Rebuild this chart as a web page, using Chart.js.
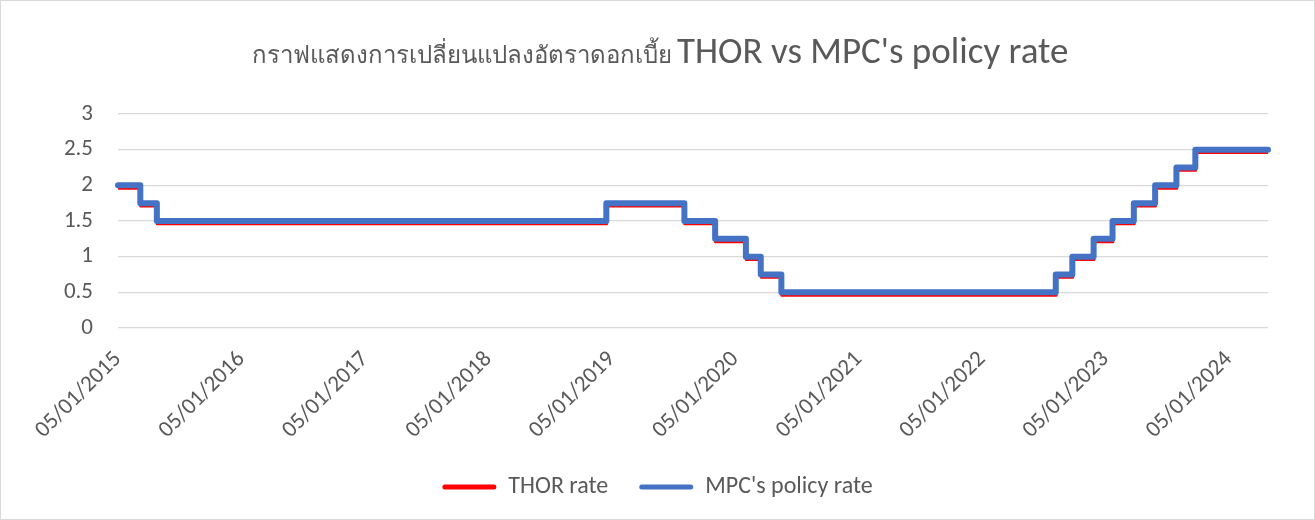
<!DOCTYPE html>
<html>
<head>
<meta charset="utf-8">
<script src="https://cdn.jsdelivr.net/npm/chart.js@4.4.1/dist/chart.umd.min.js"></script>
<style>
  html, body { margin: 0; padding: 0; background: #ffffff; }
  #wrap { width: 1315px; height: 520px; box-sizing: border-box; border: 1px solid #d9d9d9; background: #fff; }
  canvas { display: block; }
</style>
</head>
<body>
<div id="wrap"><canvas id="c" width="1313" height="518"></canvas></div>
<script>
// ---- Data ----
const titleThai = "กราฟแสดงการเปลี่ยนแปลงอัตราดอกเบี้ย";
const titleEn = "THOR vs MPC's policy rate";
const seriesNames = ["THOR rate", "MPC's policy rate"];

// MPC policy rate: date from which each rate applies
const policyDates = ["2015-01-05","2015-03-12","2015-04-30","2018-12-20","2019-08-08","2019-11-07","2020-02-06","2020-03-21","2020-05-21","2022-08-11","2022-09-29","2022-12-01","2023-01-26","2023-03-30","2023-06-01","2023-08-03","2023-09-28","2024-04-30"];
const policyRates = [2.00, 1.75, 1.50, 1.75, 1.50, 1.25, 1.00, 0.75, 0.50, 0.75, 1.00, 1.25, 1.50, 1.75, 2.00, 2.25, 2.50, 2.50];

// THOR rate: sits just under the policy rate
const thorDates = ["2015-01-05","2015-03-13","2015-05-01","2018-12-21","2019-08-09","2019-11-08","2020-02-07","2020-03-23","2020-05-22","2022-08-12","2022-09-30","2022-12-02","2023-01-27","2023-03-31","2023-06-02","2023-08-04","2023-09-29","2024-04-30"];
const thorRates = [1.96, 1.71, 1.46, 1.71, 1.46, 1.21, 0.96, 0.71, 0.46, 0.71, 0.96, 1.21, 1.46, 1.71, 1.96, 2.21, 2.46, 2.46];

// x tick dates and their labels
const tickDates = ["2015-01-05","2016-01-05","2017-01-05","2018-01-05","2019-01-05","2020-01-05","2021-01-05","2022-01-05","2023-01-05","2024-01-05"];
const tickLabels = ["05/01/2015","05/01/2016","05/01/2017","05/01/2018","05/01/2019","05/01/2020","05/01/2021","05/01/2022","05/01/2023","05/01/2024"];

// y axis
const yMin = 0, yMax = 3, yStep = 0.5;

// ---- Build ----
const toMs = s => Date.UTC(+s.slice(0,4), +s.slice(5,7) - 1, +s.slice(8,10));
const policyPts = policyDates.map((d, i) => ({ x: toMs(d), y: policyRates[i] }));
const thorPts = thorDates.map((d, i) => ({ x: toMs(d), y: thorRates[i] }));
const tickVals = tickDates.map(toMs);
const labelByVal = {};
tickVals.forEach((v, i) => labelByVal[v] = tickLabels[i]);

const FONT = "Calibri, Carlito, Lato, 'Noto Sans', sans-serif";
const GREY = '#595959';

const titlePlugin = {
  id: 'twoFontTitle',
  afterDraw(chart) {
    const ctx = chart.ctx;
    ctx.save();
    ctx.fillStyle = GREY;
    ctx.textBaseline = 'alphabetic';
    ctx.textAlign = 'left';
    const fThai = "24px " + FONT;
    const fEn = "37px " + FONT;
    ctx.font = fThai;
    const w1 = ctx.measureText(titleThai + " ").width;
    ctx.font = fEn;
    const w2 = ctx.measureText(titleEn).width;
    let x = 659 - (w1 + w2) / 2;
    const base = 62;
    ctx.font = fThai;
    ctx.fillText(titleThai + " ", x, base);
    ctx.font = fEn;
    ctx.fillText(titleEn, x + w1, base);
    ctx.restore();
  }
};

new Chart(document.getElementById('c'), {
  type: 'line',
  data: {
    datasets: [
      {
        label: seriesNames[0],
        data: thorPts,
        borderColor: '#ff0000',
        backgroundColor: '#ff0000',
        borderWidth: 3,
        stepped: 'before',
        pointRadius: 0,
        borderCapStyle: 'round',
        borderJoinStyle: 'round',
        order: 2
      },
      {
        label: seriesNames[1],
        data: policyPts,
        borderColor: '#4472c4',
        backgroundColor: '#4472c4',
        borderWidth: 6,
        stepped: 'before',
        pointRadius: 0,
        borderCapStyle: 'round',
        borderJoinStyle: 'round',
        clip: false,
        order: 1
      }
    ]
  },
  plugins: [titlePlugin],
  options: {
    responsive: false,
    animation: false,
    layout: { padding: { left: 0, right: 0, top: 113, bottom: 10 } },
    plugins: {
      title: { display: false },
      legend: {
        position: 'bottom',
        labels: {
          color: GREY,
          font: { family: FONT, size: 24 },
          boxWidth: 54,
          boxHeight: 5,
          padding: 31,
          useBorderRadius: true,
          borderRadius: 2.5,
          sort: (a, b) => a.datasetIndex - b.datasetIndex,
          generateLabels: chart => Chart.defaults.plugins.legend.labels.generateLabels(chart)
            .map(l => Object.assign(l, { lineWidth: 0, strokeStyle: 'rgba(0,0,0,0)' }))
        }
      },
      tooltip: { enabled: false }
    },
    scales: {
      x: {
        type: 'linear',
        min: toMs(policyDates[0]),
        max: toMs(policyDates[policyDates.length - 1]),
        afterBuildTicks: s => { s.ticks = tickVals.map(v => ({ value: v })); },
        afterFit: s => { s.height = 116; },
        grid: { display: false, drawTicks: false },
        border: { display: false },
        ticks: {
          autoSkip: false,
          minRotation: 45,
          maxRotation: 45,
          padding: 18,
          color: GREY,
          font: { family: FONT, size: 23 },
          callback: v => labelByVal[v] || ''
        }
      },
      y: {
        min: yMin,
        max: yMax,
        afterFit: s => { s.width = 117; },
        grid: { color: '#d9d9d9', lineWidth: 1.3, drawTicks: false },
        border: { display: false },
        ticks: {
          stepSize: yStep,
          padding: 25,
          color: GREY,
          font: { family: FONT, size: 23 },
          callback: v => String(+v)
        }
      },
      yR: {
        type: 'linear',
        position: 'right',
        afterFit: s => { s.width = 46; },
        grid: { display: false, drawTicks: false },
        border: { display: false },
        ticks: { display: false }
      }
    }
  }
});
</script>
</body>
</html>
